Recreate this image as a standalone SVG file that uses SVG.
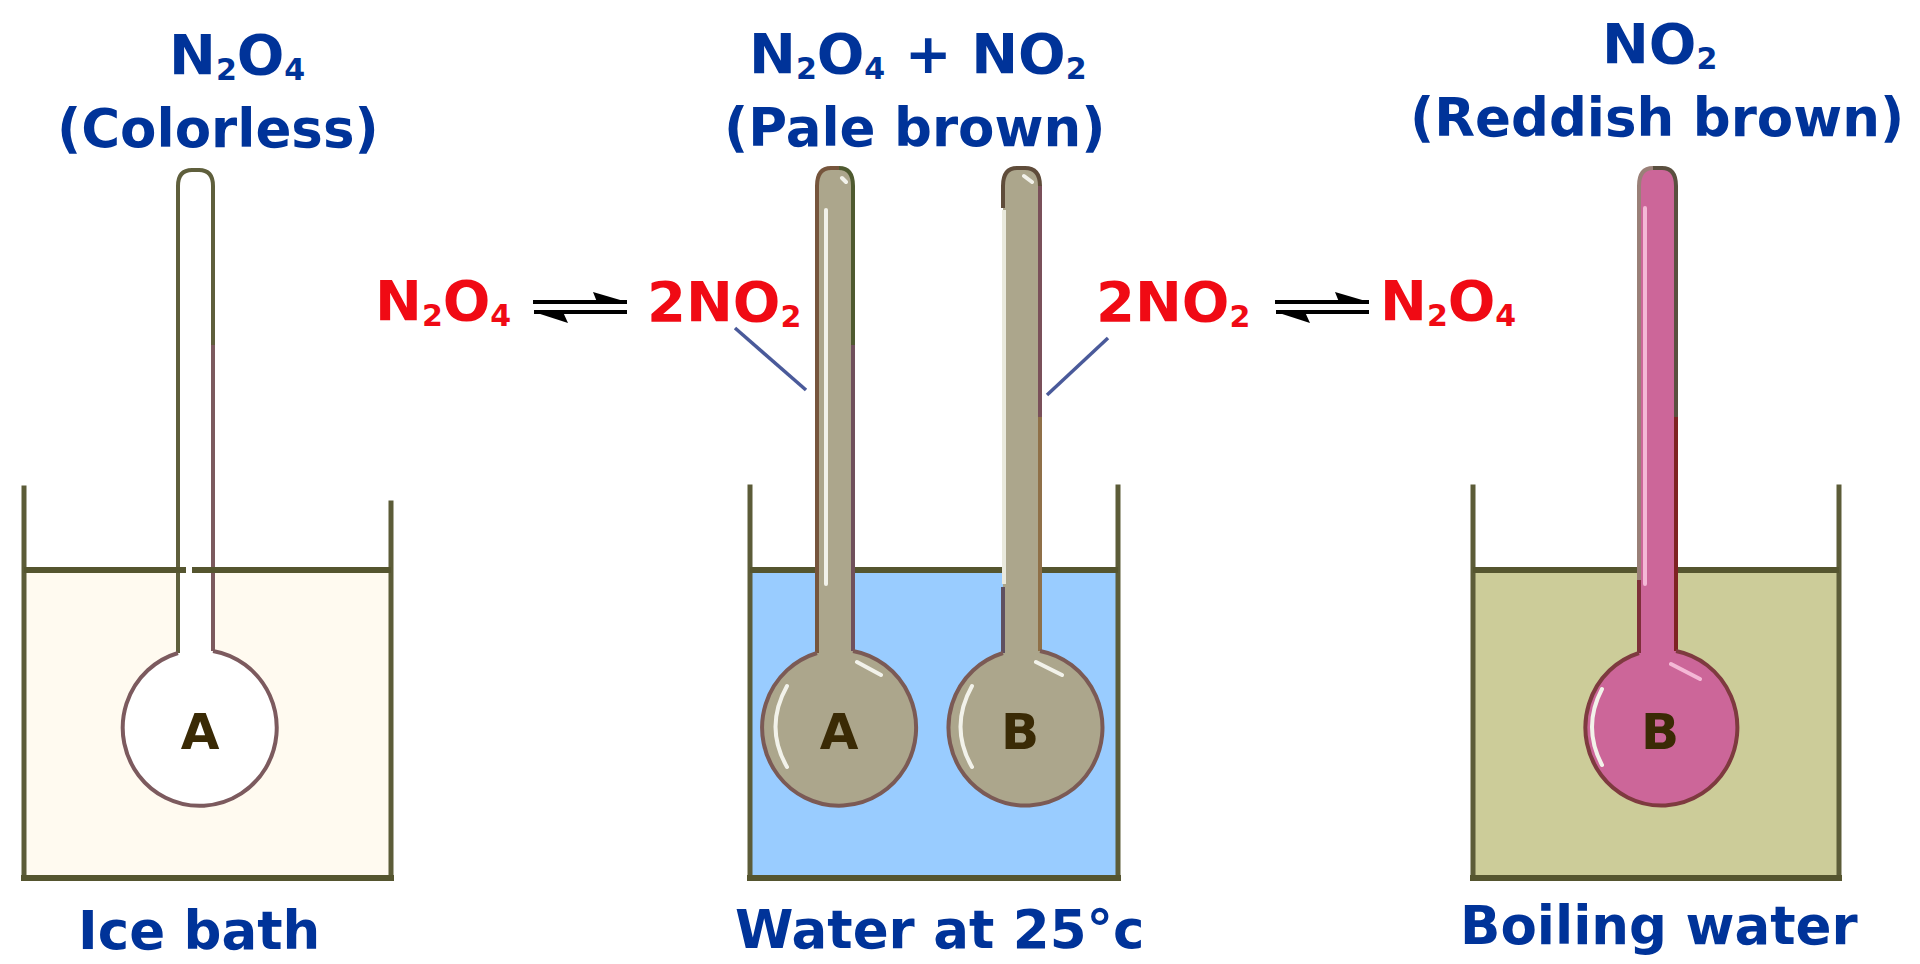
<svg xmlns="http://www.w3.org/2000/svg" width="1920" height="964" viewBox="0 0 1920 964">
<defs>
<style>
text{font-family:"DejaVu Sans","Liberation Sans",sans-serif;font-weight:700}
.lab{font-size:53px;fill:#003399}
.fb{font-size:56px;fill:#003399}
.fr{font-size:56px;fill:#f00a14}
.sub{font-size:30px}
.let{font-size:50px;fill:#3a2a05;text-anchor:middle}
.wall{fill:none;stroke:#5c5c38;stroke-width:5;stroke-linecap:square}
.wl{fill:none;stroke:#55552f;stroke-width:6}
.wb{fill:none;stroke:#55552f;stroke-width:6;stroke-linecap:square}
.glass{stroke-width:4;stroke-linejoin:round}
.seg{fill:none;stroke-width:4}
.hi{fill:none;stroke:#f2f2ea;stroke-width:4;stroke-linecap:round}
.hip{fill:none;stroke:#f4b8d6;stroke-width:4;stroke-linecap:round}
.lead{stroke:#4a5a9a;stroke-width:3.5;fill:none}
</style>
<g id="eq">
<rect x="533" y="300" width="94" height="4" fill="#000"/>
<rect x="534" y="310" width="93" height="4" fill="#000"/>
<path d="M593,292 L627,302 L597,302Z" fill="#000"/>
<path d="M534,312 L568,323 L563,312Z" fill="#000"/>
</g>
</defs>
<rect width="1920" height="964" fill="#fff"/>

<g id="connectors">
<use href="#eq"/>
<use href="#eq" x="742"/>
<line class="lead" x1="735" y1="328" x2="806" y2="390"/>
<line class="lead" x1="1108" y1="338" x2="1047" y2="395"/>
</g>

<g id="beaker-ice">
<rect x="24" y="570" width="367" height="308" fill="#fffaf0"/>
<path class="wall" d="M24,488V878M391,503V878"/>
<path class="wb" d="M24,878H391"/>
<g id="flask-a-cold">
<path class="glass" fill="#fff" stroke="none" d="M178,653V186Q178,170 192,170H199Q213,170 213,186V651A77,78 0 1 1 178,653Z"/>
<path class="seg" stroke="#5f5f3c" d="M178,653V186Q178,170 192,170H199Q213,170 213,186V345"/>
<path class="seg" stroke="#7c5a5e" d="M213,345V651"/>
<path class="seg" stroke="#7c5a5e" d="M213,651A77,78 0 1 1 178,653"/>
</g>
<path class="wl" d="M24,570H186M192,570H391"/>
<text class="let" x="200" y="749">A</text>
</g>

<g id="beaker-water">
<rect x="750" y="570" width="368" height="308" fill="#99ccff"/>
<path class="wall" d="M750,487V878M1118,487V878"/>
<path class="wb" d="M750,878H1118"/>
<path class="wl" d="M750,570H1118"/>
<g id="flask-a-mid">
<path fill="#aca68c" d="M817,653V186Q817,168 831,168H839Q853,168 853,186V651A77,78 0 1 1 817,653Z"/>
<path class="seg" stroke="#76553c" d="M817,653V186Q817,168 831,168H839"/>
<path class="seg" stroke="#4f5a30" d="M839,168Q853,168 853,186V345"/>
<path class="seg" stroke="#70505c" d="M853,345V651"/>
<path class="seg" stroke="#7b5a55" d="M853,651A77,78 0 1 1 817,653"/>
<path class="hi" stroke-width="5" d="M826,210V584"/>
<path class="hi" d="M842,178L846,182M857,662L881,675M787,686Q764,727 787,767"/>
<text class="let" x="839" y="749">A</text>
</g>
<g id="flask-b-mid">
<path fill="#aca68c" d="M1003,653V186Q1003,168 1017,168H1025Q1040,168 1040,186V651A77,78 0 1 1 1003,653Z"/>
<path class="seg" stroke="#5f4c3a" d="M1003,208V186Q1003,168 1017,168H1025Q1040,168 1040,186"/>
<path class="seg" stroke="#7a505a" d="M1040,186V417"/>
<path class="seg" stroke="#8f7048" d="M1040,417V651"/>
<path class="seg" stroke="#e9e9dd" d="M1004,210V584"/>
<path class="seg" stroke="#5f5060" d="M1003,587V653"/>
<path class="seg" stroke="#7b5a55" d="M1040,651A77,78 0 1 1 1003,653"/>
<path class="hi" d="M1024,176L1032,182M1036,662L1062,675M972,686Q949,727 972,767"/>
<text class="let" x="1020" y="749">B</text>
</g>
</g>

<g id="beaker-boiling">
<rect x="1473" y="570" width="366" height="308" fill="#cccc99"/>
<path class="wall" d="M1473,487V878M1839,487V878"/>
<path class="wb" d="M1473,878H1839"/>
<path class="wl" d="M1473,570H1839"/>
<g id="flask-b-hot">
<path fill="#cc6699" d="M1639,653V186Q1639,168 1653,168H1662Q1676,168 1676,186V651A76,78 0 1 1 1639,653Z"/>
<path class="seg" stroke="#9a8078" d="M1639,580V186Q1639,168 1653,168"/>
<path class="seg" stroke="#5a4f3f" d="M1653,168H1662Q1676,168 1676,186V417"/>
<path class="seg" stroke="#7e2222" d="M1676,417V651"/>
<path class="seg" stroke="#7e2f3a" d="M1639,580V653"/>
<path class="seg" stroke="#7e3a3f" d="M1676,651A76,78 0 1 1 1639,653"/>
<path class="hip" d="M1645,208V584M1671,664L1700,679"/>
<path class="hi" stroke="#dfe0e0" d="M1602,689Q1582,727 1602,765"/>
<text class="let" x="1660" y="749">B</text>
</g>
</g>

<g id="labels-top">
<text class="fb" x="169" y="74">N<tspan class="sub" dy="6">2</tspan><tspan dy="-6">O</tspan><tspan class="sub" dy="6">4</tspan></text>
<text class="lab" x="57" y="147">(Colorless)</text>
<text class="fb" x="749" y="73">N<tspan class="sub" dy="6">2</tspan><tspan dy="-6">O</tspan><tspan class="sub" dy="6">4</tspan><tspan dy="-6"> + NO</tspan><tspan class="sub" dy="6">2</tspan></text>
<text class="lab" x="724" y="146">(Pale brown)</text>
<text class="fb" x="1602" y="63">NO<tspan class="sub" dy="6">2</tspan></text>
<text class="lab" x="1410" y="136">(Reddish brown)</text>
</g>

<g id="labels-equilibrium">
<text class="fr" x="375" y="320">N<tspan class="sub" dy="6">2</tspan><tspan dy="-6">O</tspan><tspan class="sub" dy="6">4</tspan></text>
<text class="fr" x="647" y="321">2NO<tspan class="sub" dy="6">2</tspan></text>
<text class="fr" x="1096" y="321">2NO<tspan class="sub" dy="6">2</tspan></text>
<text class="fr" x="1380" y="320">N<tspan class="sub" dy="6">2</tspan><tspan dy="-6">O</tspan><tspan class="sub" dy="6">4</tspan></text>
</g>

<g id="labels-bottom">
<text class="lab" x="78" y="949">Ice bath</text>
<text class="lab" x="735" y="948">Water at 25°c</text>
<text class="lab" x="1460" y="944">Boiling water</text>
</g>
</svg>
